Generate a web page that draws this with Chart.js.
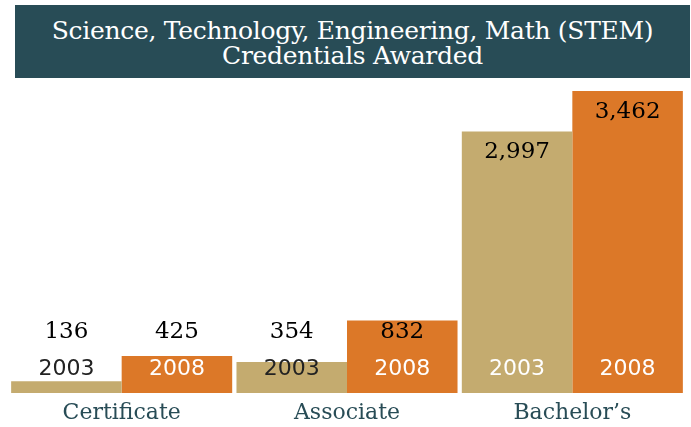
<!DOCTYPE html>
<html>
<head>
<meta charset="utf-8">
<script src="https://cdn.jsdelivr.net/npm/chart.js@4"></script>
<style>
  body { margin: 0; background: #fff; }
  #wrap { position: relative; width: 691px; height: 427px; }
  #banner {
    position: absolute; left: 15px; top: 5px; width: 675px; height: 73px;
    background: #284c56; color: #fff; text-align: center;
    font-family: "DejaVu Serif", serif; font-size: 25px; line-height: 25px;
    padding-top: 13px; box-sizing: border-box; letter-spacing: -0.3px;
  }
  canvas { position: absolute; left: 0; top: 0; }
</style>
</head>
<body>
<div id="wrap">
  <canvas id="chart" width="691" height="427"></canvas>
  <div id="banner">Science, Technology, Engineering, Math (STEM)<br>Credentials Awarded</div>
</div>
<script>
const categories = ["Certificate", "Associate", "Bachelor\u2019s"];
const seriesNames = ["2003", "2008"];
const values2003 = [136, 354, 2997];
const values2008 = [425, 832, 3462];

const tan = "#c4ab6f";
const orange = "#dc7828";
const teal = "#284c56";

// labels drawn on top of / inside the bars
const barLabels = {
  id: "barLabels",
  afterDatasetsDraw(chart) {
    const ctx = chart.ctx;
    ctx.save();
    ctx.textAlign = "center";
    ctx.textBaseline = "middle";
    chart.data.datasets.forEach((ds, di) => {
      const meta = chart.getDatasetMeta(di);
      meta.data.forEach((bar, i) => {
        const v = ds.data[i];
        // value
        ctx.font = "23px 'DejaVu Serif'";
        ctx.fillStyle = "#000";
        let y = Math.min(bar.y + 21, 332);
        ctx.fillText(v.toLocaleString("en-US"), bar.x, y);
        // year
        ctx.font = "22px 'DejaVu Sans'";
        const tall = chart.scales.y.bottom - bar.y > 60;
        ctx.fillStyle = (di === 1 || tall) ? "#fff" : "#222";
        ctx.fillText(seriesNames[di], bar.x, 369);
      });
    });
    ctx.restore();
  }
};

new Chart(document.getElementById("chart"), {
  type: "bar",
  data: {
    labels: categories,
    datasets: [
      { label: seriesNames[0], data: values2003, backgroundColor: tan },
      { label: seriesNames[1], data: values2008, backgroundColor: orange }
    ]
  },
  options: {
    responsive: false,
    animation: false,
    layout: { padding: { top: 85, left: 9, right: 6, bottom: 1 } },
    datasets: { bar: { categoryPercentage: 0.981, barPercentage: 1 } },
    plugins: { legend: { display: false }, tooltip: { enabled: false } },
    scales: {
      x: {
        grid: { display: false, drawTicks: false },
        border: { display: false },
        ticks: { color: teal, padding: 7, font: { family: "DejaVu Serif", size: 22 } },
        afterFit(scale) { scale.height = 33; }
      },
      y: {
        display: false,
        min: 0,
        max: 3530
      }
    }
  },
  plugins: [barLabels]
});
</script>
</body>
</html>
